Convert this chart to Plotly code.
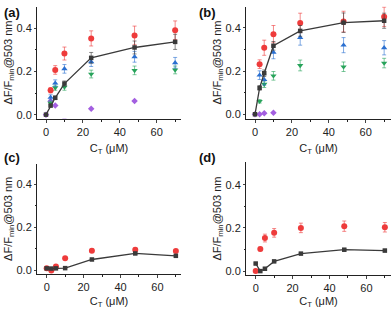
import plotly.graph_objects as go

W, H = 392, 309

x_conc = [0, 2.5, 5, 10, 24.5, 48, 70]

# panel (a)
a_black = [0.0, 0.042, 0.078, 0.144, 0.263, 0.311, 0.337]
a_black_err = [0.0, 0.006, 0.008, 0.012, 0.025, 0.03, 0.035]
a_red = [None, 0.113, 0.207, 0.283, 0.353, 0.367, 0.391]
a_red_err = [0, 0.012, 0.02, 0.03, 0.035, 0.043, 0.043]
a_blue = [None, 0.08, 0.146, 0.212, 0.245, 0.268, 0.24]
a_blue_err = [0, 0.012, 0.015, 0.02, 0.022, 0.025, 0.025]
a_green = [None, 0.053, 0.125, 0.128, 0.188, 0.205, 0.207]
a_green_err = [0, 0.01, 0.012, 0.015, 0.018, 0.02, 0.018]
a_purple = [0.0, 0.062, 0.042, -0.02, 0.027, 0.063, None]

# panel (b)
b_black = [0.0, 0.122, 0.19, 0.317, 0.386, 0.424, 0.433]
b_black_err = [0.0, 0.01, 0.015, 0.02, 0.025, 0.045, 0.035]
b_red = [None, 0.232, 0.308, 0.371, 0.423, 0.429, 0.451]
b_red_err = [0, 0.02, 0.035, 0.04, 0.045, 0.048, 0.045]
b_blue = [None, 0.181, 0.16, 0.287, 0.355, 0.32, 0.308]
b_blue_err = [0, 0.02, 0.025, 0.03, 0.035, 0.035, 0.033]
b_green = [None, 0.06, 0.139, 0.178, 0.226, 0.22, 0.237]
b_green_err = [0, 0.008, 0.015, 0.02, 0.025, 0.022, 0.022]
b_purple = [0.0, 0.0, 0.005, 0.007, None, None, None]

# panel (c)
c_black = [0.01, 0.009, 0.01, 0.011, 0.051, 0.079, 0.068]
c_black_err = [0.003, 0.003, 0.003, 0.003, 0.004, 0.005, 0.005]
c_red = [0.011, 0.0, 0.018, 0.057, 0.092, 0.096, 0.09]
c_red_err = [0.004, 0.003, 0.006, 0.005, 0.008, 0.008, 0.007]

# panel (d)
d_black = [0.035, 0.0, 0.011, 0.045, 0.081, 0.099, 0.095]
d_black_err = [0.003, 0.003, 0.003, 0.003, 0.005, 0.006, 0.006]
d_red = [0.0, 0.102, 0.153, 0.177, 0.2, 0.208, 0.203]
d_red_err = [0.003, 0.008, 0.018, 0.02, 0.022, 0.024, 0.022]

panel_labels = ["(a)", "(b)", "(c)", "(d)"]
y_title = "ΔF/F<sub>min</sub>@503 nm"
x_title = "C<sub>T</sub> (μM)"
y_ticks = [0.0, 0.2, 0.4]
x_ticks = [0, 20, 40, 60]

RED = "#ee3b3b"
BLUE = "#2a6fd0"
GREEN = "#27a35a"
PURPLE = "#a35fe0"
BLACK = "#3a3a3a"

def ecol(c):
    c = c.lstrip("#")
    r, g, b = int(c[0:2], 16), int(c[2:4], 16), int(c[4:6], 16)
    return f"rgba({r},{g},{b},0.6)"

fig = go.Figure()

# domains in pixels (left, right, top, bottom)
boxes = [
    (37, 181, 6.7, 121.7),
    (246, 391, 6.7, 121.7),
    (37, 181, 168.3, 281),
    (246, 391, 166.7, 282),
]
zero_px = [117.7, 117.3, 277.7, 278.3]
PPU = 221.7

def add(panel, ys, errs, color, symbol, line=False, size=5.5):
    ax = "" if panel == 0 else str(panel + 1)
    fig.add_trace(go.Scatter(
        x=x_conc, y=ys,
        mode="lines+markers" if line else "markers",
        line=dict(color=BLACK, width=1.3),
        marker=dict(color=color, symbol=symbol, size=size),
        error_y=dict(type="data", array=errs, color=ecol(color), thickness=1, width=2),
        xaxis="x" + ax, yaxis="y" + ax, showlegend=False, cliponaxis=False,
        connectgaps=False,
    ))

add(0, a_purple, [0]*7, PURPLE, "diamond", size=5)
add(0, a_green, a_green_err, GREEN, "triangle-down")
add(0, a_blue, a_blue_err, BLUE, "triangle-up")
add(0, a_red, a_red_err, RED, "circle", size=6)
add(0, a_black, a_black_err, BLACK, "square", line=True, size=4.5)

add(1, b_purple, [0]*7, PURPLE, "diamond", size=5)
add(1, b_green, b_green_err, GREEN, "triangle-down")
add(1, b_blue, b_blue_err, BLUE, "triangle-up")
add(1, b_red, b_red_err, RED, "circle", size=6)
add(1, b_black, b_black_err, BLACK, "square", line=True, size=4.5)

add(2, c_red, c_red_err, RED, "circle", size=6)
add(2, c_black, c_black_err, BLACK, "square", line=True, size=4.5)

add(3, d_red, d_red_err, RED, "circle", size=6)
add(3, d_black, d_black_err, BLACK, "square", line=True, size=4.5)

font = dict(family="Liberation Sans, Arial, sans-serif", size=11, color="#222")
layout = dict(
    width=W, height=H, margin=dict(l=0, r=0, t=0, b=0),
    paper_bgcolor="white", plot_bgcolor="white", font=font,
)
for i, (l, r, t, b) in enumerate(boxes):
    ax = "" if i == 0 else str(i + 1)
    x0px = [46, 255, 46.7, 255.7][i]
    ppx = 1.845
    xr = [(l - x0px) / ppx, (r - x0px) / ppx]
    yr = [-(b - zero_px[i]) / PPU, (zero_px[i] - t) / PPU]
    layout["xaxis" + ax] = dict(
        domain=[l / W, r / W], range=xr, anchor="y" + ax,
        tickvals=x_ticks, ticks="outside", ticklen=3, tickwidth=1,
        showline=True, linecolor="#222", linewidth=1, showgrid=False, zeroline=False,
        minor=dict(tickvals=[10, 30, 50, 70], ticks="outside", ticklen=2, tickcolor="#222"),
        title=dict(text=x_title, standoff=7, font=dict(size=11)),
        tickfont=dict(size=11),
    )
    layout["yaxis" + ax] = dict(
        domain=[(H - b) / H, (H - t) / H], range=yr, anchor="x" + ax,
        tickvals=y_ticks, tickformat=".1f", ticks="outside", ticklen=2, tickwidth=1,
        showline=True, linecolor="#222", linewidth=1, showgrid=False, zeroline=False,
        minor=dict(tickvals=[0.1, 0.3], ticks="outside", ticklen=1, tickcolor="#222"),
        title=dict(text=y_title, standoff=1, font=dict(size=11)),
        tickfont=dict(size=11),
    )

fig.update_layout(**layout)

label_pos = [(2, 3), (197, 3), (2, 152), (197, 152)]
for lbl, (px, py) in zip(panel_labels, label_pos):
    fig.add_annotation(text="<b>" + lbl + "</b>", xref="paper", yref="paper",
                       x=px / W, y=1 - py / H, xanchor="left", yanchor="top",
                       showarrow=False, font=dict(size=13, color="#111"))

fig.write_html("out.html", config={"displayModeBar": False},
               post_script="document.body.style.margin='0';document.body.style.padding='0';document.body.style.overflow='hidden';")
